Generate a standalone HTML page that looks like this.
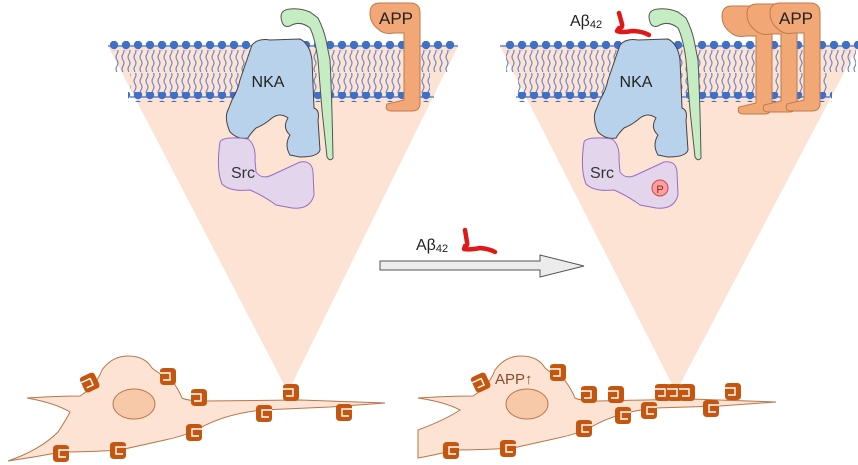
<!DOCTYPE html>
<html><head><meta charset="utf-8"><style>
html,body{margin:0;padding:0;background:#fff;width:858px;height:465px;overflow:hidden}
text{font-family:"Liberation Sans",sans-serif}
</style></head><body>
<svg width="858" height="465" viewBox="0 0 858 465" xmlns="http://www.w3.org/2000/svg">
<defs>
<pattern id="tails" x="0" y="0" width="6" height="24" patternUnits="userSpaceOnUse">
<path d="M3,0 q2,3 0,6 q-2,3 0,6 q2,3 0,6 q-2,3 0,6" fill="none" stroke="#5f80c4" stroke-width="1.1"/>
</pattern>
<pattern id="dots" x="0" y="0" width="12" height="10" patternUnits="userSpaceOnUse">
<circle cx="6" cy="5" r="4.2" fill="#3f6fc6"/>
</pattern>
<g id="app">
<path d="M0,10 Q0,0 10,0 L40,0 Q50,0 50,10 L50,100 Q50,108 42,108 L22,108 Q14,108 17,101 L34,97 L34,30 L24,30 Q14,32 8,26 Q0,20 0,10 Z" fill="#f2a777" stroke="#c07a4a" stroke-width="1"/>
</g>
<g id="mk">
<path d="M0,3 Q0,0 4,0 L12,0 Q16,0 16,4 L16,13 Q16,17 12,17 L4,17 Q0,17 0,13 Z" fill="#c4560f"/>
<path d="M0,5 L10,5 L10,12 L3,12" fill="none" stroke="#fff" stroke-width="1.4"/>
</g>
</defs>

<!-- LEFT PANEL -->
<path d="M108,46 L458,46 L288,392 Z" fill="#fce3d4"/>
<g>
<rect x="114" y="50" width="336" height="22" fill="url(#tails)"/>
<rect x="130" y="73" width="300" height="20" fill="url(#tails)"/>
<line x1="108" y1="46" x2="458" y2="46" stroke="#3f6fc6" stroke-width="1.3"/>
<line x1="130" y1="97" x2="434" y2="97" stroke="#3f6fc6" stroke-width="1.3"/>
<rect x="110" y="41" width="348" height="10" fill="url(#dots)"/>
<rect x="128" y="92" width="306" height="10" fill="url(#dots)"/>
</g>
<path d="M282,22 Q278,10 290,9 Q300,8 310,12 L318,18 Q324,30 326,40 L330,60 Q332,100 333,158 Q330,162 327,157 L322,110 L318,60 Q315,38 310,28 Q300,20 290,26 Q284,28 282,22 Z" fill="#c5ecc3" stroke="#555" stroke-width="1"/>
<path d="M252,45 Q258,38 270,40 L300,39 Q310,44 312,60 L314,108 Q320,110 318,120 L320,150 Q318,157 300,157 L290,155 Q284,145 290,135 Q282,128 288,118 Q280,112 272,118 Q264,125 256,128 Q250,134 248,138 Q238,140 230,132 Q224,118 228,110 L232,100 Q238,90 240,80 Z" fill="#b9d2ec" stroke="#444" stroke-width="1"/>
<text x="268" y="87" font-size="16" text-anchor="middle" fill="#222">NKA</text>
<path d="M220,142 Q222,137 240,138 L248,139 Q256,145 255,160 L256,172 Q262,180 272,175 L300,162 Q312,160 313,172 L314,195 Q310,210 292,208 L276,205 Q264,196 250,190 Q230,192 222,184 Q216,170 220,142 Z" fill="#e2d5ec" stroke="#9a6cc2" stroke-width="1"/>
<text x="243" y="178" font-size="16" text-anchor="middle" fill="#333">Src</text>
<use href="#app" x="370" y="3"/>
<text x="396" y="24" font-size="17" text-anchor="middle" fill="#222">APP</text>

<!-- RIGHT PANEL -->
<path d="M500,46 L858,46 L676,392 Z" fill="#fce3d4"/>
<g>
<rect x="506" y="50" width="350" height="22" fill="url(#tails)"/>
<rect x="518" y="73" width="310" height="20" fill="url(#tails)"/>
<line x1="500" y1="46" x2="858" y2="46" stroke="#3f6fc6" stroke-width="1.3"/>
<line x1="516" y1="97" x2="830" y2="97" stroke="#3f6fc6" stroke-width="1.3"/>
<rect x="502" y="41" width="356" height="10" fill="url(#dots)"/>
<rect x="514" y="92" width="318" height="10" fill="url(#dots)"/>
</g>
<path d="M650,22 Q646,10 658,9 Q668,8 678,12 L686,18 Q692,30 694,40 L698,60 Q700,100 701,158 Q698,162 695,157 L690,110 L686,60 Q683,38 678,28 Q668,20 658,26 Q652,28 650,22 Z" fill="#c5ecc3" stroke="#555" stroke-width="1"/>
<path d="M620,45 Q626,38 638,40 L668,39 Q678,44 680,60 L682,108 Q688,110 686,120 L688,150 Q686,157 668,157 L658,155 Q652,145 658,135 Q650,128 656,118 Q648,112 640,118 Q632,125 624,128 Q618,134 616,138 Q606,140 598,132 Q592,118 596,110 L600,100 Q606,90 608,80 Z" fill="#b9d2ec" stroke="#444" stroke-width="1"/>
<text x="636" y="87" font-size="16" text-anchor="middle" fill="#222">NKA</text>
<path d="M584,142 Q586,137 604,138 L612,139 Q620,145 619,160 L620,172 Q626,180 636,175 L664,162 Q676,160 677,172 L678,195 Q674,210 656,208 L640,205 Q628,196 614,190 Q594,192 586,184 Q580,170 584,142 Z" fill="#e2d5ec" stroke="#9a6cc2" stroke-width="1"/>
<text x="602" y="178" font-size="16" text-anchor="middle" fill="#333">Src</text>
<circle cx="660" cy="188" r="8" fill="#f5a3a3" stroke="#e04040" stroke-width="1"/>
<text x="660" y="193" font-size="11" text-anchor="middle" fill="#b01818">P</text>
<path d="M619,13 L622,24 Q623,28 619,28 L617,31 Q622,33 632,31 Q642,31 649,35" fill="none" stroke="#e01818" stroke-width="4.5" stroke-linejoin="round" stroke-linecap="round"/>
<text x="570" y="26" font-size="16" fill="#222">Aβ<tspan font-size="11" dy="2">42</tspan></text>
<use href="#app" x="722" y="6"/>
<use href="#app" x="747" y="4"/>
<use href="#app" x="770" y="3"/>
<text x="796" y="24" font-size="17" text-anchor="middle" fill="#222">APP</text>

<!-- middle arrow -->
<path d="M380,261 L540,261 L540,255 L584,266 L540,277 L540,270 L380,270 Z" fill="#ececec" stroke="#555" stroke-width="1"/>
<text x="416" y="250" font-size="16" fill="#222">Aβ<tspan font-size="11" dy="2">42</tspan></text>
<path d="M465,230 L467,242 Q468,246 465,246 L464,249 Q470,250 480,248 Q490,249 495,252" fill="none" stroke="#e01818" stroke-width="4.5" stroke-linejoin="round" stroke-linecap="round"/>

<!-- LEFT CELL -->
<path d="M27,398 Q60,396 80,396 Q96,386 102,370 Q112,356 128,356 Q145,356 152,368 Q160,375 170,378 Q178,388 182,398 Q188,401 205,401 L300,400 L385,403 L330,407 L262,410 Q225,414 200,428 Q185,436 165,440 L120,450 Q90,452 62,452 Q35,457 8,461 Q40,450 58,432 Q66,420 70,412 Q55,403 27,398 Z" fill="#fde3d4" stroke="#b8764a" stroke-width="1"/>
<ellipse cx="134" cy="404" rx="21" ry="15" fill="#f8c9a9" stroke="#b8764a" stroke-width="1"/>
<g>
<use href="#mk" x="82" y="374" transform="rotate(-25 90 383)"/>
<use href="#mk" x="160" y="368"/>
<use href="#mk" x="191" y="389"/>
<use href="#mk" x="186" y="424" transform="scale(-1,1) translate(-388,0)"/>
<use href="#mk" x="256" y="405" transform="scale(-1,1) translate(-528,0)"/>
<use href="#mk" x="283" y="384"/>
<use href="#mk" x="336" y="404" transform="scale(-1,1) translate(-688,0)"/>
<use href="#mk" x="53" y="445" transform="scale(-1,1) translate(-122,0)"/>
<use href="#mk" x="110" y="442" transform="scale(-1,1) translate(-236,0)"/>
</g>

<!-- RIGHT CELL -->
<path d="M418,398 Q450,396 473,396 Q489,386 495,370 Q505,356 521,356 Q538,356 545,368 Q553,375 563,378 Q571,388 575,398 Q581,401 598,401 L690,399 L776,402 L720,406 L655,408 Q618,412 593,426 Q578,434 558,438 L513,448 Q483,450 455,450 Q435,455 418,458 L418,430 Q445,420 460,410 Q445,402 418,398 Z" fill="#fde3d4" stroke="#b8764a" stroke-width="1"/>
<ellipse cx="527" cy="404" rx="21" ry="15" fill="#f8c9a9" stroke="#b8764a" stroke-width="1"/>
<text x="495" y="384" font-size="15" fill="#8a4a2a">APP↑</text>
<g>
<use href="#mk" x="473" y="374" transform="rotate(-25 481 383)"/>
<use href="#mk" x="550" y="364"/>
<use href="#mk" x="581" y="386"/>
<use href="#mk" x="608" y="386"/>
<use href="#mk" x="655" y="384"/>
<use href="#mk" x="667" y="384"/>
<use href="#mk" x="679" y="384"/>
<use href="#mk" x="725" y="383"/>
<use href="#mk" x="615" y="407" transform="scale(-1,1) translate(-1246,0)"/>
<use href="#mk" x="641" y="402" transform="scale(-1,1) translate(-1298,0)"/>
<use href="#mk" x="703" y="400" transform="scale(-1,1) translate(-1422,0)"/>
<use href="#mk" x="576" y="420" transform="scale(-1,1) translate(-1168,0)"/>
<use href="#mk" x="443" y="442" transform="scale(-1,1) translate(-902,0)"/>
<use href="#mk" x="500" y="440" transform="scale(-1,1) translate(-1016,0)"/>
</g>
</svg>
</body></html>
